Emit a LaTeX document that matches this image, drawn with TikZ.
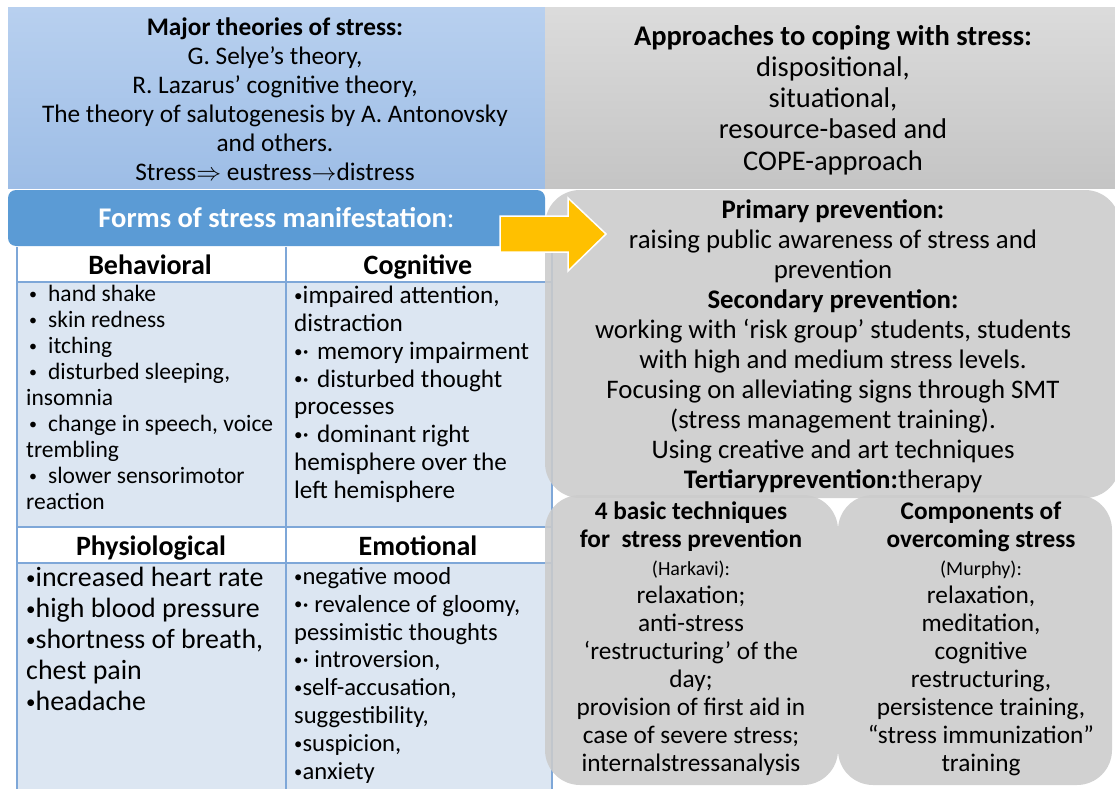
\documentclass[tikz,border=0pt]{standalone}
\usepackage{fontspec}
\setmainfont{Carlito}
\definecolor{paleblue}{HTML}{B8D0EF}
\definecolor{midblue}{HTML}{9DBDE6}
\definecolor{headblue}{HTML}{5B9BD5}
\definecolor{gridblue}{HTML}{7EA7D8}
\definecolor{cellblue}{HTML}{DCE6F2}
\definecolor{boxgray}{HTML}{CBCBCB}
\definecolor{arrowyellow}{HTML}{FFC000}
\newcommand{\bul}{\raisebox{0.09em}{\scalebox{0.68}{•}}}
\tikzset{
  topbox/.style={rectangle, inner sep=0, align=center},
  graybox/.style={fill=boxgray, fill opacity=.88, text opacity=1, rounded corners=35},
  listtext/.style={anchor=north west, inner sep=0, align=left},
  headtext/.style={anchor=base, inner sep=0, font=\fontsize{28}{30}\selectfont\bfseries}
}
\begin{document}
\begin{tikzpicture}[x=1pt,y=-1pt]
   \useasboundingbox (0,0) rectangle (1115,789);

   % upper boxes
   \shade[top color=paleblue, bottom color=midblue] (8,8) rectangle (545,188);
   \shade[top color=gray!28, bottom color=gray!46] (545,8) rectangle (1115,188);
   \node[topbox, font=\fontsize{25.3}{29}\selectfont] (theories) at (275,99)
   {\textbf{Major theories of stress:}\\ G. Selye’s theory,\\
    R. Lazarus’ cognitive theory,\\
    The theory of salutogenesis by A. Antonovsky\\ and others.\\
    Stress$\Rightarrow$ eustress$\rightarrow$distress};
   \node[topbox, font=\fontsize{28.5}{31.2}\selectfont] (approaches) at (833,100)
   {\textbf{Approaches to coping with stress:}\\ dispositional,\\ situational,\\
    resource-based and\\ COPE-approach};

   % header of the table
   \node[fill=headblue, rounded corners=8, minimum width=537, minimum height=56,
     text=white, font=\fontsize{28.5}{30}\selectfont\bfseries] (forms) at (276.5,218)
   {Forms of stress manifestation\textmd{:}};

   % table
   \fill[white] (17,247) rectangle (552,282);
   \fill[cellblue] (17,282) rectangle (552,527);
   \fill[white] (17,527) rectangle (552,563);
   \fill[cellblue] (17,563) rectangle (552,789);
   \draw[gridblue, line width=1.6] (17,247) -- (17,789)
     (286,247) -- (286,789) (552,247) -- (552,789)
     (17,282) -- (552,282) (17,527) -- (552,527) (17,563) -- (552,563);

   \node[headtext] (behav) at (150,274) {Behavioral};
   \node[headtext] (cogn) at (418,274) {Cognitive};
   \node[headtext] (physio) at (151,555) {Physiological};
   \node[headtext] (emot) at (418,555) {Emotional};

   \node[listtext, font=\fontsize{23.5}{26}\selectfont] (behavlist) at (26,285)
   {\hspace*{3pt}\bul\hspace{11pt}hand shake\\ \hspace*{3pt}\bul\hspace{11pt}skin redness\\
    \hspace*{3pt}\bul\hspace{11pt}itching\\ \hspace*{3pt}\bul\hspace{11pt}disturbed sleeping,\\ insomnia\\
    \hspace*{3pt}\bul\hspace{11pt}change in speech, voice\\ trembling\\
    \hspace*{3pt}\bul\hspace{11pt}slower sensorimotor\\ reaction};
   \node[listtext, font=\fontsize{25.2}{27.8}\selectfont] (cognlist) at (294,286)
   {\bul impaired attention,\\ distraction\\ \bul·\hspace{8pt}memory impairment\\
    \bul·\hspace{8pt}disturbed thought\\ processes\\ \bul·\hspace{8pt}dominant right\\
    hemisphere over the\\ left hemisphere};
   \node[listtext, font=\fontsize{27.9}{31}\selectfont] (physiolist) at (26,567)
   {\bul increased heart rate\\ \bul high blood pressure\\ \bul shortness of breath,\\
    chest pain\\ \bul headache};
   \node[listtext, font=\fontsize{24.6}{27.9}\selectfont] (emotlist) at (294,567)
   {\bul negative mood\\ \bul· revalence of gloomy,\\ pessimistic thoughts\\
    \bul· introversion,\\ \bul self-accusation,\\ suggestibility,\\ \bul suspicion,\\ \bul anxiety};

   % prevention boxes
   \fill[graybox] (545,190) rectangle (1120,498);
   \node[topbox, font=\fontsize{26.8}{30}\selectfont] (prevention) at (833,346)
   {\textbf{Primary prevention:}\\ raising public awareness of stress and\\ prevention\\
    \textbf{Secondary prevention:}\\ working with ‘risk group’ students, students\\
    with high and medium stress levels.\\ Focusing on alleviating signs through SMT\\
    (stress management training).\\ Using creative and art techniques\\
    \textbf{Tertiaryprevention:}therapy};

   \fill[graybox] (545,495) rectangle (838,785);
   \fill[graybox] (838,495) rectangle (1112,785);
   \node[topbox, font=\fontsize{25.3}{28}\selectfont] (techniques) at (691,639)
   {\textbf{4 basic techniques}\\ \textbf{for\ \ stress prevention}\\
    {\fontsize{20}{26}\selectfont (Harkavi):}\\ relaxation;\\ anti-stress\\
    ‘restructuring’ of the\\ day;\\ provision of first aid in\\
    case of severe stress;\\ internalstressanalysis};
   \node[topbox, font=\fontsize{25.3}{28}\selectfont] (components) at (981,639)
   {\textbf{Components of}\\ \textbf{overcoming stress}\\
    {\fontsize{20}{26}\selectfont (Murphy):}\\ relaxation,\\ meditation,\\
    cognitive\\ restructuring,\\ persistence training,\\
    “stress immunization”\\ training};

   % yellow arrow
   \filldraw[fill=arrowyellow, draw=white, line width=1.5]
   (500,216) -- (568,216) -- (568,198) -- (606,234)
   -- (568,271) -- (568,252) -- (500,252) -- cycle;

 \end{tikzpicture}
\end{document}
